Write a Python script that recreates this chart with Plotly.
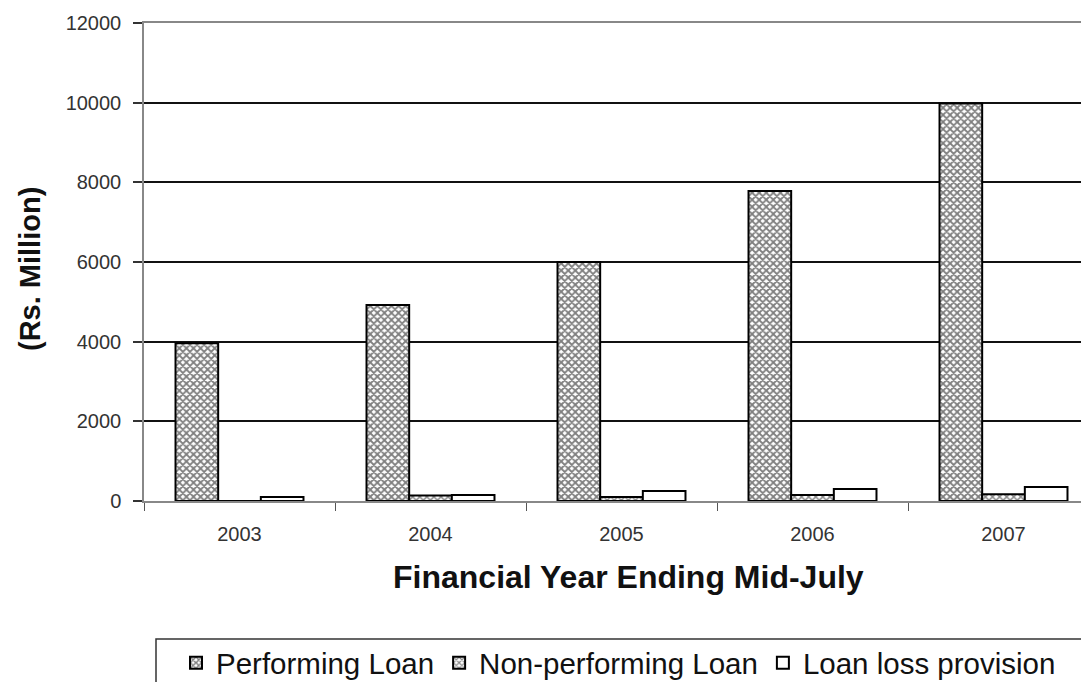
import plotly.graph_objects as go

years = ["2003", "2004", "2005", "2006", "2007"]
performing = [3960, 4920, 6000, 7780, 9980]
non_performing = [0, 140, 100, 150, 170]
loss_provision = [100, 150, 250, 300, 350]
y_ticks = [0, 2000, 4000, 6000, 8000, 10000, 12000]

FONT = "Liberation Sans, Arial, sans-serif"
W, H = 1081, 682
L, T, B = 144, 23, 181
PW = W - L
PH = H - T - B

fig = go.Figure()
fig.add_trace(go.Bar(
    name="Performing Loan", x=years, y=performing,
    marker=dict(color="white", line=dict(color="black", width=2),
                pattern=dict(shape="x", size=5, solidity=0.6,
                             fgcolor="#000000", bgcolor="white")),
))
fig.add_trace(go.Bar(
    name="Non-performing Loan", x=years, y=non_performing,
    marker=dict(color="white", line=dict(color="black", width=2),
                pattern=dict(shape="x", size=5, solidity=0.5,
                             fgcolor="#111111", bgcolor="white")),
))
fig.add_trace(go.Bar(
    name="Loan loss provision", x=years, y=loss_provision,
    marker=dict(color="white", line=dict(color="black", width=2)),
))

fig.update_layout(
    width=W, height=H,
    margin=dict(l=L, r=0, t=T, b=B, autoexpand=False),
    paper_bgcolor="white", plot_bgcolor="white",
    barmode="group", bargap=0.33, bargroupgap=0,
    showlegend=True,
    legend=dict(
        orientation="h",
        xref="container", yref="container",
        x=176 / W, xanchor="left",
        y=1 - 637 / H, yanchor="top",
        borderwidth=0,
        font=dict(family=FONT, size=29.5, color="#111111"),
        bgcolor="rgba(0,0,0,0)",
    ),
    font=dict(family=FONT, color="#222222"),
)

# legend frame (extends past the right and bottom edges as in the original)
fig.add_shape(
    type="rect", xref="paper", yref="paper",
    x0=(156 - L) / PW, x1=1.2,
    y0=-(639 - (H - B)) / PH, y1=-(720 - (H - B)) / PH,
    line=dict(color="#333333", width=1.5), fillcolor="rgba(0,0,0,0)",
    layer="below",
)

fig.update_xaxes(
    type="category",
    range=[-0.5, -0.5 + PW / 191.0],
    showline=True, linecolor="#888888", linewidth=1.5,
    mirror=True,
    ticks="outside", tickson="boundaries", ticklen=8,
    tickcolor="#555555", tickwidth=1,
    tickfont=dict(family=FONT, size=20, color="#333333"),
    ticklabelstandoff=14,
    showgrid=False,
)
fig.update_yaxes(
    range=[0, 12000],
    tickvals=y_ticks,
    ticktext=[str(v) for v in y_ticks],
    showline=True, linecolor="#888888", linewidth=1.5,
    ticks="outside", ticklen=9, tickcolor="#333333", tickwidth=1.5,
    tickfont=dict(family=FONT, size=20, color="#333333"),
    ticklabelstandoff=8,
    showgrid=True, gridcolor="#111111", gridwidth=1.5,
    zeroline=False,
)

fig.add_annotation(
    text="Financial Year Ending Mid-July",
    xref="paper", yref="paper",
    x=(628 - L) / PW, y=-(577 - (H - B)) / PH,
    xanchor="center", yanchor="middle", showarrow=False,
    font=dict(family=FONT, size=32, color="#111111", weight="bold"),
)
fig.add_annotation(
    text="(Rs. Million)",
    xref="paper", yref="paper",
    x=-(L - 30) / PW, y=(H - B - 269) / PH,
    xanchor="center", yanchor="middle", showarrow=False, textangle=-90,
    font=dict(family=FONT, size=29, color="#111111", weight="bold"),
)

fig.write_html("out.html")
